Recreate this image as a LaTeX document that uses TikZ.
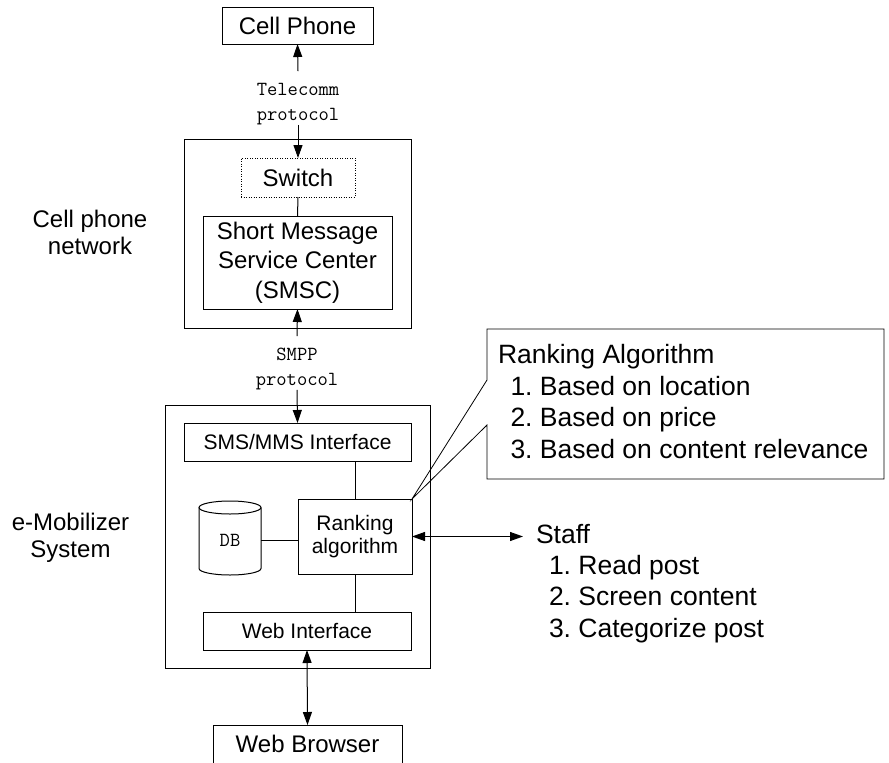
\documentclass[tikz,border=0pt]{standalone}
\usepackage{fontspec}
\setmainfont{Liberation Sans}
\usetikzlibrary{arrows.meta}
\frenchspacing
\begin{document}
\begin{tikzpicture}[x=1pt,y=-1pt,
  every node/.style={inner sep=0pt, outer sep=0pt},
  box/.style={draw, line width=1pt, rectangle, align=center},
  fa/.style={font=\fontsize{24}{29.5}\selectfont},
  fl/.style={font=\fontsize{24}{27}\selectfont, align=center},
  fb/.style={font=\fontsize{21}{23.5}\selectfont},
  fc/.style={font=\fontsize{26.5}{31.6}\selectfont\frenchspacing},
  fm/.style={font=\fontsize{20}{25}\selectfont\ttfamily, align=center},
  link/.style={line width=1pt},
  tip/.tip={Triangle[length=13pt,width=9pt]},
  arr/.style={line width=1pt,-tip},
  darr/.style={line width=1pt,tip-tip},
  bubble/.style={draw, line width=0.8pt, line join=miter},
]
\useasboundingbox (0,0) rectangle (889,763);
\clip (0,0) rectangle (889,763);

% top part
\node[box,fa,minimum width=151pt,minimum height=37pt] (cell) at (297.5,25.5) {Cell Phone};
\node[fm] (tel) at (298,104) {Telecomm\\protocol};
\node[box,minimum width=227pt,minimum height=189pt] (net) at (297.5,233.5) {};
\node[box,fa,dash pattern=on 1pt off 1.5pt,minimum width=114pt,minimum height=39pt] (sw) at (298,177.5) {Switch};
\node[box,fa,minimum width=189pt,minimum height=93pt] (smsc) at (297.5,262.5) {Short Message\\Service Center\\(SMSC)};
\node[fl] (netlbl) at (90,232.5) {Cell phone\\network};

\node[fm] (smpp) at (297,369) {SMPP\\protocol};

% e-Mobilizer system
\node[box,minimum width=265pt,minimum height=263pt] (emob) at (297.5,536.5) {};
\node[fl] (emlbl) at (70.5,538) {e-Mobilizer\\System};
\node[box,fb,minimum width=227pt,minimum height=38pt] (sms) at (297.5,442) {SMS/MMS Interface};
\node[box,fb,minimum width=114pt,minimum height=75pt] (rank) at (355,536.5) {Ranking\\algorithm};
\node[font=\fontsize{20}{24}\selectfont\ttfamily,minimum width=62pt,minimum height=74pt] (db) at (230,540) {DB};
\draw[link] (199,507.5) -- (199,568.5) arc[start angle=180,end angle=360,x radius=31pt,y radius=6.5pt] -- (261,507.5);
\draw[link] (230,507.5) ellipse [x radius=31pt,y radius=6.5pt];
\node[box,fb,minimum width=208pt,minimum height=38pt] (wi) at (307,631) {Web Interface};
\node[box,fa,anchor=north,minimum width=189pt,inner ysep=10pt,text depth=3pt] (wb) at (307.5,725) {Web Browser};

% callout
\node[fc,align=left,anchor=west] (callout) at (498,401.5) {Ranking Algorithm\\\hspace*{12.5pt}1. Based on location\\\hspace*{12.5pt}2. Based on price\\\hspace*{12.5pt}3. Based on content relevance};
\draw[bubble] (487,329) -- (884,329) -- (884,479) -- (487,479) -- (487,425) -- (rank.north east) -- (487,380) -- cycle;

% staff
\node[fc,anchor=west] (staff) at (536,534) {Staff};
\coordinate (staffend) at (523,536.5);
\node[fc,align=left,anchor=west] (stl) at (549,599) {1. Read post\\2. Screen content\\3. Categorize post};

% connectors
\draw[arr] ([yshift=12pt]tel.north) -- (cell.south);
\draw[arr] (tel.south) -- (sw.north);
\draw[link] (sw.south) -- (smsc.north);
\draw[arr] ([yshift=12pt]smpp.north) -- (smsc.south);
\draw[arr] (smpp.south) -- (sms.north);
\draw[link] (rank.north) -- (rank.north |- sms.south);
\draw[link] (db.east) -- (db.east -| rank.west);
\draw[link] (rank.south) -- (rank.south |- wi.north);
\draw[darr] (rank.east) -- (staffend);
\draw[darr] (wi.south) -- (wb.north);
\end{tikzpicture}
\end{document}
